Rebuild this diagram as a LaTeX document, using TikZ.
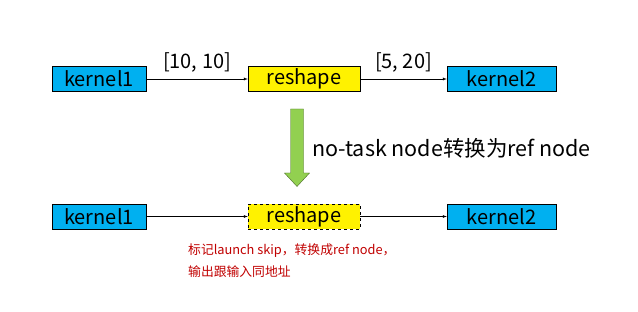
\documentclass[tikz,border=0pt]{standalone}
\usepackage{fontspec}
\setmainfont{Noto Sans CJK SC}
\definecolor{kblue}{HTML}{00B0F0}
\definecolor{rgreen}{HTML}{92D050}
\definecolor{tred}{HTML}{C00000}
\tikzset{
    bigtext/.style={font=\fontsize{20pt}{22pt}\selectfont},
    kbox/.style={draw, thin, fill=kblue, minimum width=94pt, minimum height=25pt, inner sep=0pt, bigtext},
    rbox/.style={draw, thin, fill=yellow, minimum width=112pt, minimum height=25pt, inner sep=0pt, bigtext},
    flow/.style={-latex, thin},
}
\begin{document}
\begin{tikzpicture}[x=1pt, y=-1pt]
    \useasboundingbox (0,0) rectangle (638,312);

    % before
    \node [kbox] (k1a) at (99,79) {kernel1};
    \node [rbox] (ra) at (304,79) {reshape};
    \node [kbox, minimum width=109pt] (k2a) at (501.5,79) {kernel2};
    \draw [flow]
        (k1a) -- (ra)
            node [midway, above=3pt, bigtext] {[10, 10]}
        ;
    \draw [flow]
        (ra) -- (k2a)
            node [midway, above=3pt, bigtext] {[5, 20]}
        ;

    % transform
    \draw [draw=rgreen!50!black, fill=rgreen, line join=miter]
        (290.5,109) -- (303.5,109) -- (303.5,173) -- (309.5,173)
        -- (297,186.5) -- (284.5,173) -- (290.5,173) -- cycle
        ;
    \node [anchor=west, font=\fontsize{21.5pt}{23pt}\selectfont, inner sep=0pt]
        (convtxt) at (312,148) {no-task node转换为ref node};

    % after
    \node [kbox] (k1b) at (99,216.5) {kernel1};
    \node [rbox, dashed] (rb) at (304,216.5) {reshape};
    \node [kbox, minimum width=109pt] (k2b) at (501.5,216.5) {kernel2};
    \draw [flow] (k1b) -- (rb);
    \draw [flow] (rb) -- (k2b);

    \node [anchor=north west, align=left, text=tred, inner sep=0pt,
        font=\fontsize{12.8pt}{22pt}\selectfont]
        (note) at (188,244) {标记launch skip，转换成ref node，\\输出跟输入同地址};
\end{tikzpicture}
\end{document}
